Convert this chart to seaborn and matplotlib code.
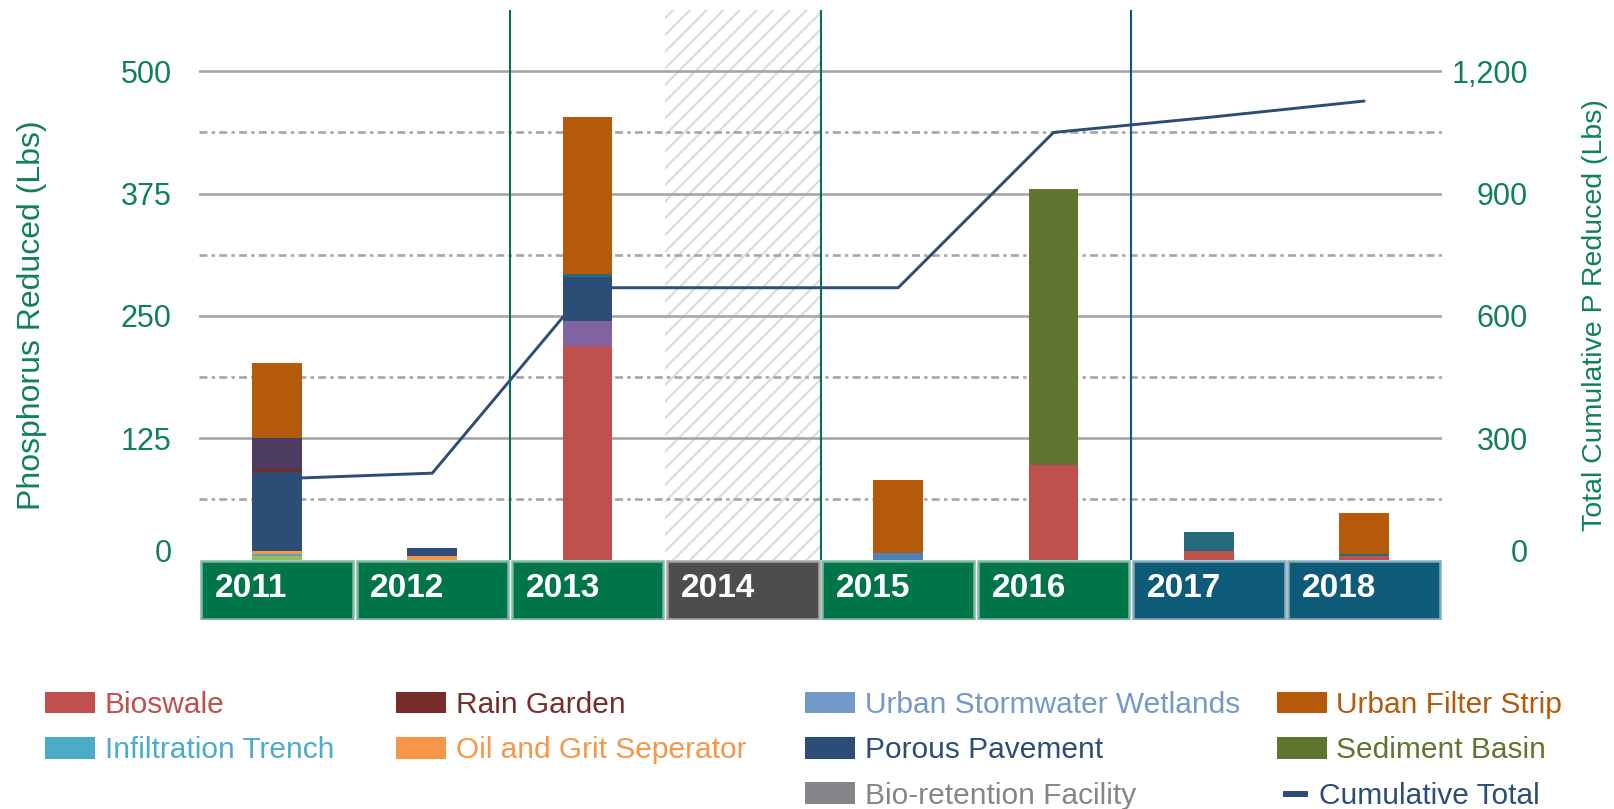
import numpy as np
import matplotlib
matplotlib.use("Agg")
import matplotlib.pyplot as plt
import seaborn as sns
from matplotlib import font_manager
from matplotlib.patches import Patch
from matplotlib.lines import Line2D
from matplotlib.transforms import ScaledTranslation

# ---- data ----
years = ['2011', '2012', '2013', '2014', '2015', '2016', '2017', '2018']

# stacked from the bottom up, lbs of phosphorus
bioswale = [0, 0, 219, 0, 0, 97, 10, 4]
unlabeled_green = [4, 0, 0, 0, 0, 0, 0, 0]
infiltration_trench = [3, 0, 0, 0, 0, 0, 0, 0]
oil_grit = [3, 4, 0, 0, 0, 0, 0, 0]
stormwater_wetlands = [0, 0, 0, 0, 8, 0, 0, 0]
unlabeled_purple = [0, 0, 26, 0, 0, 0, 0, 0]
porous_pavement = [80, 9, 45, 0, 0, 0, 0, 0]
rain_garden = [3, 0, 0, 0, 0, 0, 0, 0]
unlabeled_plum = [32, 0, 0, 0, 0, 0, 0, 0]
unlabeled_teal = [0, 0, 3, 0, 0, 0, 19.5, 3]
sediment_basin = [0, 0, 0, 0, 0, 283, 0, 0]
urban_filter_strip = [77, 0, 160, 0, 74, 0, 0, 41]
bio_retention = [0, 0, 0, 0, 0, 0, 0, 0]

cumulative_total = [200, 214, 669, 669, 669, 1050, 1087, 1127]

left_ticks = [0, 125, 250, 375, 500]
right_ticks = [0, 300, 600, 900, 1200]
right_tick_labels = ['0', '300', '600', '900', '1,200']

# phases of the program: year boxes and separators
box_colors = ['#00754A', '#00754A', '#00754A', '#4D4D4D',
              '#00754A', '#00754A', '#0E5B79', '#0E5B79']
box_edges = ['#80BAA4', '#80BAA4', '#80BAA4', '#A6A6A6',
             '#80BAA4', '#80BAA4', '#87ADBC', '#87ADBC']
phase_starts = ['2013', '2015', '2017']
phase_colors = ['#00754A', '#00754A', '#0E5A78']
no_data_year = '2014'

stack = [
    (bioswale, '#C0504D'),
    (unlabeled_green, '#9BBB59'),
    (infiltration_trench, '#4BACC6'),
    (oil_grit, '#F79646'),
    (stormwater_wetlands, '#4F81BD'),
    (unlabeled_purple, '#8064A2'),
    (porous_pavement, '#2C4D75'),
    (rain_garden, '#772C2A'),
    (unlabeled_plum, '#4D3B62'),
    (unlabeled_teal, '#276A7C'),
    (sediment_basin, '#5F7530'),
    (urban_filter_strip, '#B45A0A'),
    (bio_retention, '#7F7F7F'),
]

legend_cols = [
    [('Bioswale', '#C0504D'), ('Infiltration Trench', '#4BACC6')],
    [('Rain Garden', '#772C2A'), ('Oil and Grit Seperator', '#F79646')],
    [('Urban Stormwater Wetlands', '#7399C6'), ('Porous Pavement', '#2C4D75'),
     ('Bio-retention Facility', '#848589')],
    [('Urban Filter Strip', '#B45A0A'), ('Sediment Basin', '#5F7530')],
]

axis_color = '#10805C'
grid_color = '#A6A6A6'
line_color = '#2C4D75'

# ---- style ----
sns.set_style('white')
plt.rcParams['font.family'] = ['Liberation Sans', 'DejaVu Sans']
plt.rcParams['hatch.linewidth'] = 1.5
installed = {f.name for f in font_manager.fontManager.ttflist}
if 'Liberation Sans Narrow' in installed:
    year_font, year_size = 'Liberation Sans Narrow', 28
else:
    year_font, year_size = 'Liberation Sans', 24

fig = plt.figure(figsize=(16.14, 8.09), dpi=100)
ax = fig.add_axes([0.1235, 0.2342, 0.7698, 0.7531])

y_top = 562.4
box_depth = 60.5
n = len(years)
pos = np.arange(n)

# hatched "no data" year
i14 = years.index(no_data_year)
ax.bar(i14, y_top, width=1.0, bottom=0, color='none', edgecolor='#DADADA',
       hatch='//', linewidth=0, zorder=0.5)

# gridlines
for v in left_ticks[1:]:
    ax.axhline(v, color=grid_color, lw=1.9, zorder=1)
for v in left_ticks[:-1]:
    ax.axhline(v + 62.5, color=grid_color, lw=1.9, zorder=1,
               linestyle=(0, (3, 1.6, 1.3, 1.6)))

# phase separators
for yr, c in zip(phase_starts, phase_colors):
    ax.vlines(years.index(yr) - 0.5, 0, y_top, color=c, lw=1.5, zorder=2)

# stacked bars: draw cumulative heights from the top series down
tops = np.cumsum(np.array([s for s, _ in stack], dtype=float), axis=0)
for k in range(len(stack) - 1, -1, -1):
    sns.barplot(x=years, y=tops[k], color=stack[k][1], width=0.32,
                saturation=1, errorbar=None, linewidth=0, zorder=3, ax=ax)

# year boxes under the bars
ax.bar(pos, box_depth - 1.5, width=0.975, bottom=-box_depth + 0.75,
       color=box_colors, edgecolor=box_edges, linewidth=1.8, zorder=3)
for i, yr in enumerate(years):
    ax.text(i - 0.5 + 0.1, -28.6, yr, color='white', fontsize=year_size,
            fontweight='bold', family=[year_font, 'DejaVu Sans'],
            ha='left', va='center', zorder=4)

ax.set_xlim(-0.5, n - 0.5)
ax.set_ylim(-box_depth, y_top)
ax.set_xticks([])
ax.set_xlabel('')
ax.set_yticks(left_ticks)
ax.set_yticklabels([str(t) for t in left_ticks])
ax.tick_params(axis='y', length=0, pad=20, labelsize=22, labelcolor=axis_color)
ax.set_ylabel('Phosphorus Reduced (Lbs)', fontsize=23, color=axis_color, va='center')
ax.yaxis.set_label_coords(-0.1349, 0.5)
for s in ax.spines.values():
    s.set_visible(False)

# cumulative total on the right axis
ax2 = ax.twinx()
sns.lineplot(x=pos, y=cumulative_total, color=line_color, linewidth=2.1,
             ax=ax2, zorder=5)
ax2.set_xlim(-0.5, n - 0.5)
ax2.set_ylim(-box_depth * 2.4, y_top * 2.4)
ax2.set_yticks(right_ticks)
ax2.set_yticklabels(right_tick_labels, ha='right')
ax2.tick_params(axis='y', length=0, pad=62, labelsize=22, labelcolor=axis_color)
ax2.set_ylabel('Total Cumulative P Reduced (Lbs)', fontsize=20.5,
               color=axis_color, va='center')
ax2.yaxis.set_label_coords(1.1233, 0.5)
for s in ax2.spines.values():
    s.set_visible(False)

# lift the "0" labels off the year boxes
lift = ScaledTranslation(0, 0.10, fig.dpi_scale_trans)
for a in (ax, ax2):
    lab = a.get_yticklabels()[0]
    lab.set_transform(lab.get_transform() + lift)

# legend, one column at a time
fs = 21.5
fs_px = fs * 100 / 72
col_x = [44.7, 396.3, 805.0, 1276.5]
legend_top = 1 - 691.0 / 809
for x0, entries in zip(col_x, legend_cols):
    handles = [Patch(facecolor=c, edgecolor='none') for _, c in entries]
    leg = fig.legend(handles, [t for t, _ in entries], loc='upper left',
                     bbox_to_anchor=(x0 / 1614, legend_top), frameon=False,
                     fontsize=fs, handlelength=50 / fs_px, handleheight=22.3 / fs_px,
                     handletextpad=10 / fs_px, labelspacing=0.58,
                     borderpad=0, borderaxespad=0)
    for txt, (_, c) in zip(leg.get_texts(), entries):
        txt.set_color(c)

line_handle = Line2D([], [], color=line_color, lw=4.3, solid_capstyle='butt')
leg = fig.legend([line_handle], ['Cumulative Total'], loc='upper left',
                 bbox_to_anchor=(1282.7 / 1614, 1 - 782.5 / 809), frameon=False,
                 fontsize=fs, handlelength=25 / fs_px, handletextpad=11.5 / fs_px,
                 borderpad=0, borderaxespad=0)
leg.get_texts()[0].set_color(line_color)

fig.savefig('out.png', dpi=100)
